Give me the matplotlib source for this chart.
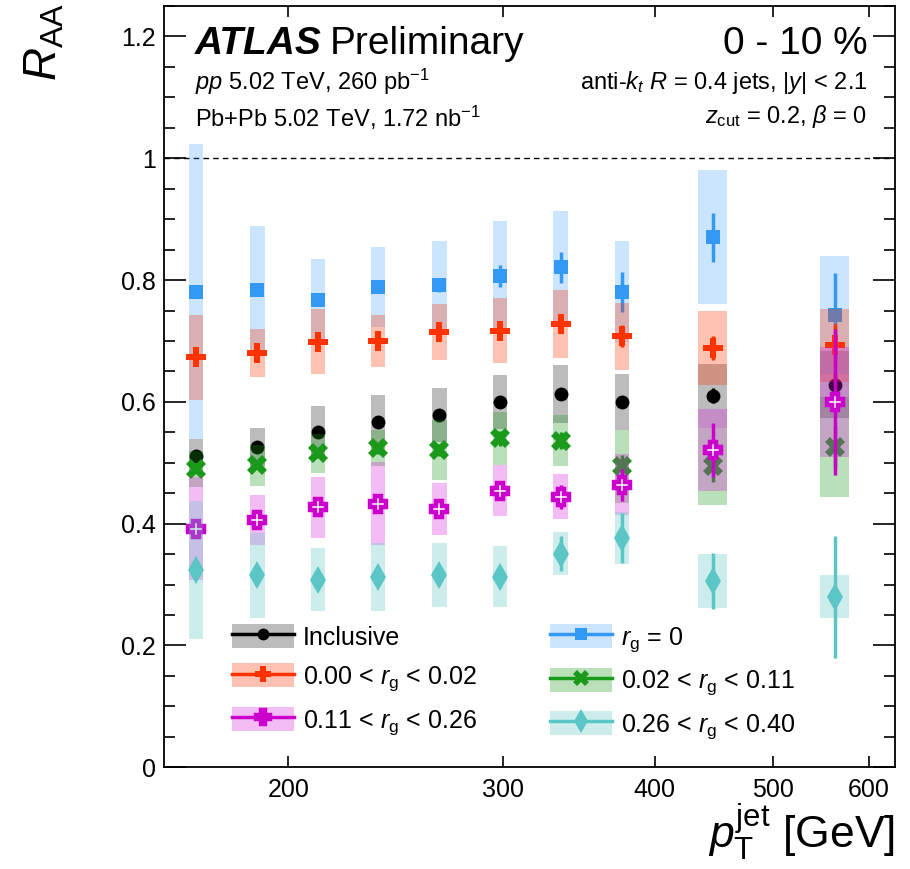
import numpy as np
import matplotlib
matplotlib.use("Agg")
import matplotlib.pyplot as plt
from matplotlib.patches import Patch
from matplotlib.lines import Line2D
from matplotlib.legend_handler import HandlerTuple
from matplotlib.ticker import FixedLocator, MultipleLocator, NullLocator, FixedFormatter

plt.rcParams['font.family'] = ['Liberation Sans', 'DejaVu Sans']
plt.rcParams['mathtext.fontset'] = 'custom'
plt.rcParams['mathtext.rm'] = 'Liberation Sans'
plt.rcParams['mathtext.it'] = 'Liberation Sans:italic'
plt.rcParams['mathtext.bf'] = 'Liberation Sans:bold'

# ---------------- data ----------------
bin_edges = [158.5, 178, 200, 224, 251, 282, 316, 355, 398, 501, 631]

incl      = [0.511, 0.526, 0.551, 0.567, 0.578, 0.600, 0.613, 0.600, 0.610, 0.628]
incl_sys  = [0.028, 0.031, 0.043, 0.045, 0.044, 0.044, 0.048, 0.046, 0.053, 0.055]
incl_stat = [0.004, 0.004, 0.005, 0.005, 0.006, 0.007, 0.008, 0.009, 0.012, 0.020]

rg0       = [0.781, 0.784, 0.768, 0.789, 0.792, 0.807, 0.821, 0.781, 0.870, 0.743]
rg0_sys   = [0.242, 0.104, 0.067, 0.066, 0.072, 0.090, 0.093, 0.083, 0.110, 0.097]
rg0_stat  = [0.008, 0.008, 0.009, 0.010, 0.012, 0.018, 0.025, 0.033, 0.040, 0.069]

r1        = [0.673, 0.680, 0.699, 0.700, 0.714, 0.717, 0.728, 0.708, 0.688, 0.693]
r1_sys    = [0.070, 0.039, 0.054, 0.042, 0.046, 0.053, 0.056, 0.055, 0.061, 0.060]
r1_stat   = [0.006, 0.007, 0.008, 0.009, 0.010, 0.012, 0.014, 0.018, 0.020, 0.035]

r2        = [0.490, 0.496, 0.516, 0.524, 0.521, 0.540, 0.536, 0.494, 0.494, 0.526]
r2_sys    = [0.030, 0.034, 0.032, 0.030, 0.049, 0.044, 0.042, 0.060, 0.063, 0.082]
r2_stat   = [0.006, 0.007, 0.008, 0.009, 0.010, 0.012, 0.014, 0.018, 0.025, 0.035]

r3        = [0.392, 0.406, 0.427, 0.433, 0.424, 0.454, 0.444, 0.464, 0.521, 0.600]
r3_sys    = [0.085, 0.041, 0.050, 0.068, 0.043, 0.042, 0.037, 0.050, 0.068, 0.090]
r3_stat   = [0.010, 0.010, 0.012, 0.013, 0.013, 0.015, 0.020, 0.026, 0.044, 0.120]

r4        = [0.324, 0.315, 0.308, 0.313, 0.316, 0.313, 0.351, 0.376, 0.306, 0.280]
r4_sys    = [0.114, 0.070, 0.052, 0.056, 0.052, 0.050, 0.035, 0.043, 0.045, 0.035]
r4_stat   = [0.010, 0.010, 0.012, 0.013, 0.015, 0.018, 0.028, 0.041, 0.046, 0.100]

labels = ["Inclusive", r"$r_{\mathrm{g}}$ = 0",
          r"0.00 < $r_{\mathrm{g}}$ < 0.02", r"0.02 < $r_{\mathrm{g}}$ < 0.11",
          r"0.11 < $r_{\mathrm{g}}$ < 0.26", r"0.26 < $r_{\mathrm{g}}$ < 0.40"]

x_ticks = [200, 300, 400, 500, 600]
y_ticks = [0, 0.2, 0.4, 0.6, 0.8, 1.0, 1.2]
y_tick_labels = ["0", "0.2", "0.4", "0.6", "0.8", "1", "1.2"]

# ---------------- styles ----------------
series = [
    (incl, incl_sys, incl_stat, dict(color='#000000', band='#7a7a7a', balpha=0.5, marker='o', ms=10, mfc='#000000')),
    (rg0, rg0_sys, rg0_stat, dict(color='#3399f5', band='#3399ff', balpha=0.25, marker='s', ms=10, mfc='#3399f5')),
    (r1, r1_sys, r1_stat, dict(color='#ff3300', band='#ff3300', balpha=0.3, marker='P', ms=14, mfc='#ff3300')),
    (r2, r2_sys, r2_stat, dict(color='#1a991a', band='#1a991a', balpha=0.3, marker='X', ms=14, mfc='#1a991a')),
    (r3, r3_sys, r3_stat, dict(color='#cc00cc', band='#dd22dd', balpha=0.3, marker='P', ms=12, mfc='white')),
    (r4, r4_sys, r4_stat, dict(color='#5cc6c6', band='#5cc6c6', balpha=0.3, marker='d', ms=14, mfc='#5cc6c6')),
]

fig = plt.figure(figsize=(9.1, 8.69), dpi=100)
ax = fig.add_axes([164/910, 1-767.3/869, (895-164)/910, (767.3-6)/869])
ax.set_xscale('log')
ax.set_xlim(158.1, 630.2)
ax.set_ylim(0, 1.25)

edges = np.array(bin_edges)
lo_e, hi_e = edges[:-1], edges[1:]
centers = np.sqrt(lo_e * hi_e)
hw = 0.12 * np.log10(hi_e / lo_e)
box_lo = centers * 10**(-hw)
box_hi = centers * 10**(hw)

handles = []
z = 2
for vals, sys, stat, st in series:
    v = np.array(vals); s = np.array(sys); e = np.array(stat)
    ax.bar(box_lo, 2*s, bottom=v-s, width=box_hi-box_lo, align='edge',
           color=st['band'], alpha=st['balpha'], linewidth=0, zorder=z)
    mew = 3.2 if st['mfc'] == 'white' else 0
    ax.errorbar(centers, v, yerr=e, fmt='none', ecolor=st['color'], elinewidth=2.5,
                capsize=0, zorder=z+0.5)
    ax.plot(centers, v, linestyle='none', marker=st['marker'], ms=st['ms'],
            mfc=st['mfc'], mec=st['color'], mew=mew, zorder=z+0.6)
    z += 1
    handles.append((Patch(facecolor=st['band'], alpha=st['balpha'], linewidth=0),
                    Line2D([], [], color=st['color'], lw=2.5, marker=st['marker'],
                           ms=st['ms']*0.85, mfc=st['mfc'], mec=st['color'], mew=mew)))

ax.axhline(1.0, color='black', lw=1.0, ls=(0, (4, 3)), zorder=1)

# ticks
ax.xaxis.set_major_locator(FixedLocator(x_ticks))
ax.xaxis.set_major_formatter(FixedFormatter([str(t) for t in x_ticks]))
ax.xaxis.set_minor_locator(NullLocator())
ax.yaxis.set_major_locator(FixedLocator(y_ticks))
ax.yaxis.set_major_formatter(FixedFormatter(y_tick_labels))
ax.yaxis.set_minor_locator(MultipleLocator(0.05))
ax.tick_params(axis='both', which='both', direction='in', top=True, right=True,
               labelsize=18, colors='black', width=1.2)
ax.tick_params(axis='y', which='major', length=16, pad=6)
ax.tick_params(axis='y', which='minor', length=8)
ax.tick_params(axis='x', which='major', length=8, pad=8)
for sp in ax.spines.values():
    sp.set_linewidth(1.3)

# legend (row-major order in 2 columns)
order = [0, 2, 4, 1, 3, 5]
leg = ax.legend([handles[i] for i in order], [labels[i] for i in order],
                handler_map={tuple: HandlerTuple(ndivide=1, pad=0)},
                loc='upper left', bbox_to_anchor=(0.093, 0.188), ncol=2,
                frameon=False, fontsize=18, handlelength=2.5, handleheight=1.1,
                handletextpad=0.35, columnspacing=2.9, labelspacing=0.55, borderpad=0,
                borderaxespad=0)

# texts
t1 = ax.text(0.042, 0.95, "ATLAS", transform=ax.transAxes, fontsize=28,
             fontweight='bold', fontstyle='italic', va='center', ha='left')
fig.canvas.draw()
bb = t1.get_window_extent()
inv = ax.transAxes.inverted()
xr = inv.transform((bb.x1, bb.y0))[0]
ax.text(xr + 0.012, 0.95, "Preliminary", transform=ax.transAxes, fontsize=28,
        va='center', ha='left')
ax.text(0.962, 0.95, "0 - 10 %", transform=ax.transAxes, fontsize=28,
        va='center', ha='right')
ax.text(0.042, 0.9, r"$pp$ 5.02 TeV, 260 pb$^{-1}$", transform=ax.transAxes,
        fontsize=17, va='center', ha='left')
ax.text(0.042, 0.853, r"Pb+Pb 5.02 TeV, 1.72 nb$^{-1}$", transform=ax.transAxes,
        fontsize=17, va='center', ha='left')
ax.text(0.962, 0.9, r"anti-$k_{t}$ $R$ = 0.4 jets, $|y|$ < 2.1", transform=ax.transAxes,
        fontsize=17, va='center', ha='right')
ax.text(0.962, 0.855, r"$z_{\mathrm{cut}}$ = 0.2, $\beta$ = 0", transform=ax.transAxes,
        fontsize=17, va='center', ha='right')

fig.text(45/910, 1-3/869, r"$R_{\mathrm{AA}}$", rotation=90, fontsize=33,
         ha='center', va='top')
fig.text(895/910, 1-832/869, r"$p_{\mathrm{T}}^{\mathrm{jet}}$ [GeV]", fontsize=32,
         ha='right', va='center')

fig.savefig("out.png", dpi=100)
